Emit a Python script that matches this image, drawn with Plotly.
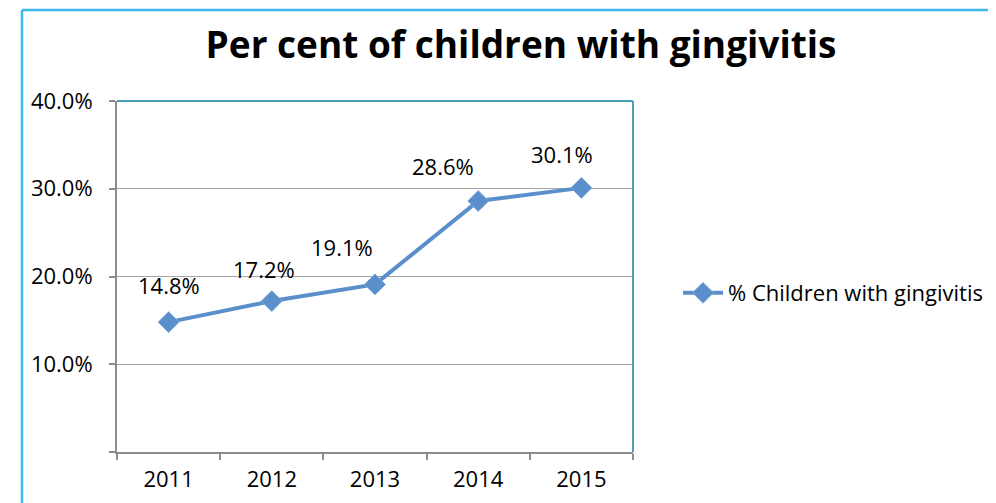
import plotly.graph_objects as go

years = ["2011", "2012", "2013", "2014", "2015"]
values = [14.8, 17.2, 19.1, 28.6, 30.1]
value_labels = ["14.8%", "17.2%", "19.1%", "28.6%", "30.1%"]
y_tickvals = [0, 10, 20, 30, 40]
y_ticktext = ["", "10.0%", "20.0%", "30.0%", "40.0%"]
series_name = "% Children with gingivitis"
title_text = "Per cent of children with gingivitis"

label_dx = [0, -8, -33, -35, -19]
label_dy = [37, 32, 37, 35, 34]

LINE = "#5B8FCB"
FONT = "Open Sans"
FS = 22

# page body has an 8px margin; work in page pixels, convert to figure pixels
OFF = 8
W, H = 996 - OFF, 503 - OFF
L, R, T, B = 117 - OFF, 633 - OFF, 101 - OFF, 452 - OFF


def px_x(p):
    return (p - OFF - L) / (R - L)


def px_y(p):
    return (B - (p - OFF)) / (B - T)


fig = go.Figure()
fig.add_trace(go.Scatter(
    x=years, y=values, mode="lines+markers", name=series_name,
    line=dict(color=LINE, width=4),
    marker=dict(symbol="diamond", size=16, color=LINE,
                line=dict(color="#7aa6d8", width=1)),
))

for i, (yv, t, dx, dy) in enumerate(zip(values, value_labels, label_dx, label_dy)):
    fig.add_annotation(x=i, y=yv, xref="x", yref="y", text=t, showarrow=False,
                       xshift=dx, yshift=dy,
                       font=dict(family=FONT, size=FS, color="#000000"))

shapes = [
    dict(type="line", xref="paper", yref="paper", x0=px_x(22), x1=px_x(22),
         y0=px_y(560), y1=px_y(10), line=dict(color="#3DB8EC", width=2.5), layer="above"),
    dict(type="line", xref="paper", yref="paper", x0=px_x(22), x1=px_x(1100),
         y0=px_y(10), y1=px_y(10), line=dict(color="#3DB8EC", width=2.5), layer="above"),
    dict(type="line", xref="paper", yref="paper", x0=0, x1=1, y0=1, y1=1,
         line=dict(color="#4B9FB6", width=2), layer="above"),
    dict(type="line", xref="paper", yref="paper", x0=1, x1=1, y0=0, y1=1,
         line=dict(color="#4B9FB6", width=2), layer="above"),
]

fig.update_layout(
    width=W, height=H,
    margin=dict(l=L, r=W - R, t=T, b=H - B, pad=0, autoexpand=False),
    paper_bgcolor="white", plot_bgcolor="white",
    font=dict(family=FONT, color="#000000"),
    title=dict(text="<b>" + title_text + "</b>", xref="container", yref="container",
               x=(521 - OFF) / W, y=1 - (45 - OFF) / H, xanchor="center", yanchor="middle",
               font=dict(family=FONT, size=37, color="#000000")),
    showlegend=True,
    legend=dict(x=px_x(678), y=px_y(293), xanchor="left", yanchor="middle",
                font=dict(family=FONT, size=FS, color="#000000"),
                bgcolor="rgba(0,0,0,0)", itemwidth=40),
    shapes=shapes,
    xaxis=dict(type="category", range=[-0.5, 4.5], tickson="boundaries",
               ticks="outside", ticklen=6, tickcolor="#8C8C8C", tickwidth=1.5,
               showline=True, linecolor="#8C8C8C", linewidth=2,
               showgrid=False, zeroline=False,
               tickfont=dict(family=FONT, size=FS, color="#000000"),
               ticklabelstandoff=7),
    yaxis=dict(range=[0, 40], tickvals=y_tickvals, ticktext=y_ticktext,
               ticks="outside", ticklen=6, tickcolor="#8C8C8C", tickwidth=1.5,
               showline=True, linecolor="#8C8C8C", linewidth=2,
               showgrid=True, gridcolor="#A6A6A6", gridwidth=1.3,
               zeroline=False,
               tickfont=dict(family=FONT, size=FS, color="#000000"),
               ticklabelstandoff=12),
)

fig.write_html("out.html")
